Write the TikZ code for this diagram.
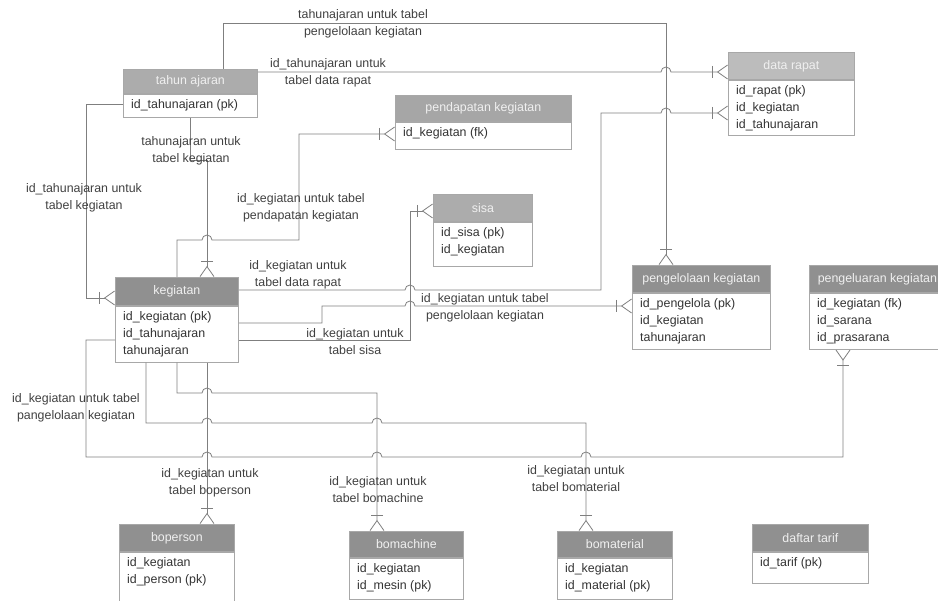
\documentclass[tikz,border=0pt]{standalone}
\usepackage{fontspec}
\setmainfont{Liberation Sans}
\usetikzlibrary{arrows.meta}

\definecolor{headgray}{HTML}{909090}
\definecolor{linegray}{HTML}{7F7F7F}
\definecolor{framegray}{HTML}{A8A8A8}
\definecolor{textgray}{HTML}{333333}
\definecolor{labelgray}{HTML}{404040}

\begin{document}
\begin{tikzpicture}[x=1pt, y=-1pt,
    every node/.style={font=\fontsize{12.4}{17}\selectfont},
    head/.style={anchor=north west, fill=headgray, draw=framegray, line width=0.8pt, text=white!94!black, inner sep=0pt},
    tbody/.style={anchor=north west, draw=framegray, line width=0.8pt, fill=white, inner sep=0pt},
    fields/.style={anchor=north west, align=left, text=textgray, inner xsep=8pt, inner ysep=6pt},
    rel/.style={draw=linegray, line width=0.8pt},
    crow/.style={-{Bar[width=12pt, sep=4pt] Straight Barb[reversed, length=10pt, width=14pt]}},
    lbl/.style={align=center, text=labelgray, font=\fontsize{12.4}{17}\selectfont},
  ]
  \useasboundingbox (0,0) rectangle (938,601);

  \node[head, fill=headgray!75!white, minimum width=134pt, minimum height=24pt] (tahun) at (123,69) {tahun ajaran};
  \node[tbody, minimum width=134pt, minimum height=23pt] (tahun-b) at (tahun.south west) {};
  \node[fields] (tahun-f) at (tahun-b.north west) {id\_tahunajaran (pk)};

  \node[head, fill=headgray!80!white, minimum width=176pt, minimum height=26pt] (pendapatan) at (395,95) {pendapatan kegiatan};
  \node[tbody, minimum width=176pt, minimum height=27pt] (pendapatan-b) at (pendapatan.south west) {};
  \node[fields] (pendapatan-f) at (pendapatan-b.north west) {id\_kegiatan (fk)};

  \node[head, fill=headgray!60!white, minimum width=126pt, minimum height=27pt] (rapat) at (728,52) {data rapat};
  \node[tbody, minimum width=126pt, minimum height=55pt] (rapat-b) at (rapat.south west) {};
  \node[fields] (rapat-f) at (rapat-b.north west) {id\_rapat (pk)\\id\_kegiatan\\id\_tahunajaran};

  \node[head, fill=headgray!75!white, minimum width=99pt, minimum height=27pt] (sisa) at (433,194) {sisa};
  \node[tbody, minimum width=99pt, minimum height=44pt] (sisa-b) at (sisa.south west) {};
  \node[fields] (sisa-f) at (sisa-b.north west) {id\_sisa (pk)\\id\_kegiatan};

  \node[head, minimum width=123pt, minimum height=28pt] (kegiatan) at (115,277) {kegiatan};
  \node[tbody, minimum width=123pt, minimum height=56pt] (kegiatan-b) at (kegiatan.south west) {};
  \node[fields] (kegiatan-f) at (kegiatan-b.north west) {id\_kegiatan (pk)\\id\_tahunajaran\\tahunajaran};

  \node[head, minimum width=138pt, minimum height=27pt] (pengelolaan) at (632,265) {pengelolaan kegiatan};
  \node[tbody, minimum width=138pt, minimum height=56pt] (pengelolaan-b) at (pengelolaan.south west) {};
  \node[fields] (pengelolaan-f) at (pengelolaan-b.north west) {id\_pengelola (pk)\\id\_kegiatan\\tahunajaran};

  \node[head, minimum width=136pt, minimum height=27pt] (pengeluaran) at (809,265) {pengeluaran kegiatan};
  \node[tbody, minimum width=136pt, minimum height=56pt] (pengeluaran-b) at (pengeluaran.south west) {};
  \node[fields] (pengeluaran-f) at (pengeluaran-b.north west) {id\_kegiatan (fk)\\id\_sarana\\id\_prasarana};

  \node[head, minimum width=115pt, minimum height=27pt] (boperson) at (119,524) {boperson};
  \node[tbody, minimum width=115pt, minimum height=60pt] (boperson-b) at (boperson.south west) {};
  \node[fields] (boperson-f) at (boperson-b.north west) {id\_kegiatan\\id\_person (pk)};

  \node[head, minimum width=114pt, minimum height=26pt] (bomachine) at (349,531) {bomachine};
  \node[tbody, minimum width=114pt, minimum height=41pt] (bomachine-b) at (bomachine.south west) {};
  \node[fields] (bomachine-f) at (bomachine-b.north west) {id\_kegiatan\\id\_mesin (pk)};

  \node[head, minimum width=115pt, minimum height=26pt] (bomaterial) at (557,531) {bomaterial};
  \node[tbody, minimum width=115pt, minimum height=41pt] (bomaterial-b) at (bomaterial.south west) {};
  \node[fields] (bomaterial-f) at (bomaterial-b.north west) {id\_kegiatan\\id\_material (pk)};

  \node[head, minimum width=116pt, minimum height=27pt] (tarif) at (752,524) {daftar tarif};
  \node[tbody, minimum width=116pt, minimum height=31pt] (tarif-b) at (tarif.south west) {};
  \node[fields] (tarif-f) at (tarif-b.north west) {id\_tarif (pk)};

  \draw[rel, crow] (tahun.north -| 223,0) -- (223,23) -- (666,23) -- (pengelolaan.north -| 666,0);
  \draw[rel, crow] (tahun.east |- 0,72) -- (661,72) arc[start angle=180, end angle=0, radius=5pt] -- (rapat.west |- 0,72);
  \draw[rel, crow] (tahun.west |- 0,104) -- (86,104) -- (86,298) -- (kegiatan.west |- 0,298);
  \draw[rel, crow] (tahun-b.south -| 190,0) -- (190,160) -- (207,160) -- (kegiatan.north -| 207,0);
  \draw[rel, crow] (kegiatan.north -| 177,0) -- (177,240) -- (202,240) arc[start angle=180, end angle=0, radius=5pt]
    -- (299,240) -- (299,134) -- (pendapatan-b.west |- 0,134);
  \draw[rel, crow] (kegiatan.east |- 0,290) -- (405,290) arc[start angle=180, end angle=0, radius=5pt]
    -- (601,290) -- (601,113) -- (661,113) arc[start angle=180, end angle=0, radius=5pt] -- (rapat-b.west |- 0,113);
  \draw[rel, crow] (kegiatan-b.east |- 0,323) -- (322,323) -- (322,306) -- (405,306) arc[start angle=180, end angle=0, radius=5pt]
    -- (pengelolaan-b.west |- 0,306);
  \draw[rel, crow] (kegiatan-b.east |- 0,340) -- (410,340) -- (410,211) -- (sisa.west |- 0,211);
  \draw[rel, crow] (kegiatan-b.west |- 0,340) -- (86,340) -- (86,457)
    -- (202,457) arc[start angle=180, end angle=0, radius=5pt]
    -- (372,457) arc[start angle=180, end angle=0, radius=5pt]
    -- (581,457) arc[start angle=180, end angle=0, radius=5pt]
    -- (843,457) -- (pengeluaran-b.south -| 843,0);
  \draw[rel, crow] (kegiatan-b.south -| 146,0) -- (146,423)
    -- (202,423) arc[start angle=180, end angle=0, radius=5pt]
    -- (372,423) arc[start angle=180, end angle=0, radius=5pt]
    -- (586,423) -- (bomaterial.north -| 586,0);
  \draw[rel, crow] (kegiatan-b.south -| 177,0) -- (177,393)
    -- (202,393) arc[start angle=180, end angle=0, radius=5pt]
    -- (377,393) -- (bomachine.north -| 377,0);
  \draw[rel, crow] (kegiatan-b.south -| 207,0) -- (boperson.north -| 207,0);

  \node[lbl] (l-tp) at (363,24) {tahunajaran untuk tabel\\pengelolaan kegiatan};
  \node[lbl] (l-tr) at (328,73) {id\_tahunajaran untuk\\tabel data rapat};
  \node[lbl] (l-tk) at (84,198) {id\_tahunajaran untuk\\tabel kegiatan};
  \node[lbl] (l-tk2) at (191,151) {tahunajaran untuk\\tabel kegiatan};
  \node[lbl] (l-kpd) at (301,208) {id\_kegiatan untuk tabel\\pendapatan kegiatan};
  \node[lbl] (l-kr) at (298,275) {id\_kegiatan untuk\\tabel data rapat};
  \node[lbl] (l-kpg) at (485,308) {id\_kegiatan untuk tabel\\pengelolaan kegiatan};
  \node[lbl] (l-ks) at (355,342) {id\_kegiatan untuk\\tabel sisa};
  \node[lbl] (l-kpl) at (76,408) {id\_kegiatan untuk tabel\\pangelolaan kegiatan};
  \node[lbl] (l-kbp) at (210,483) {id\_kegiatan untuk\\tabel boperson};
  \node[lbl] (l-kbm) at (378,490) {id\_kegiatan untuk\\tabel bomachine};
  \node[lbl] (l-kbt) at (576,479) {id\_kegiatan untuk\\tabel bomaterial};
\end{tikzpicture}
\end{document}
